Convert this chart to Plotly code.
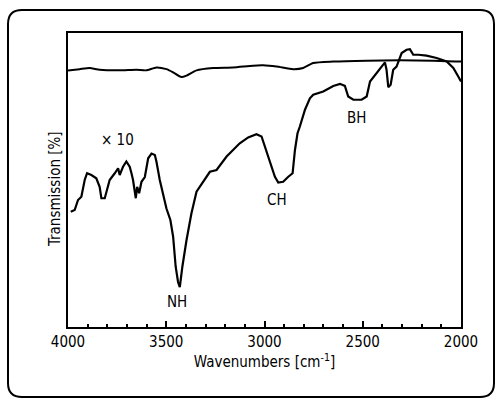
import plotly.graph_objects as go

# Reference (unscaled) spectrum
ref_wn = [4000, 3941, 3890, 3839, 3737, 3652, 3601, 3550, 3499, 3465, 3423, 3397, 3346,
          3261, 3160, 3058, 3007, 2939, 2854, 2803, 2752, 2650, 2480, 2311, 2141, 2000]
ref_t = [87.2, 87.7, 88.1, 87.5, 87.3, 87.5, 87.3, 88.3, 87.7, 86.6, 85.0, 85.5, 87.3,
         88.1, 88.3, 88.9, 89.0, 88.6, 87.7, 88.1, 89.8, 90.3, 90.6, 90.7, 90.6, 90.3]

# x10 spectrum
x10_wn = [3986, 3966, 3949, 3932, 3915, 3903, 3881, 3856, 3839, 3830, 3813, 3805, 3788, 3762,
          3745, 3737, 3720, 3703, 3686, 3677, 3669, 3660, 3655, 3648, 3638, 3626, 3609, 3592,
          3575, 3558, 3550, 3533, 3516, 3499, 3479, 3465, 3452, 3440, 3431, 3418, 3397, 3372,
          3346, 3329, 3304, 3278, 3244, 3219, 3193, 3160, 3126, 3083, 3041, 3015, 2998, 2981,
          2964, 2947, 2930, 2905, 2879, 2857, 2845, 2832, 2820, 2794, 2769, 2752, 2701, 2650,
          2616, 2591, 2574, 2548, 2506, 2480, 2463, 2429, 2404, 2387, 2379, 2370, 2358, 2345,
          2328, 2319, 2302, 2277, 2260, 2243, 2217, 2175, 2124, 2073, 2039, 2014, 2000]
x10_t = [39.2, 39.8, 43.2, 44.3, 50.0, 52.3, 51.7, 50.6, 47.7, 43.8, 43.8, 46.0, 50.0, 52.3,
         54.0, 51.7, 54.5, 56.3, 54.5, 52.3, 50.0, 46.0, 43.8, 47.7, 45.5, 49.4, 51.0, 57.4,
         59.0, 58.5, 56.3, 50.0, 45.5, 40.3, 36.4, 30.7, 20.5, 15.3, 13.6, 20.5, 29.5, 38.6,
         46.0, 47.7, 50.0, 52.8, 53.4, 55.7, 58.0, 60.2, 62.5, 64.5, 65.6, 64.8, 61.4, 58.0,
         54.5, 51.1, 49.1, 49.4, 51.1, 52.3, 60.2, 65.9, 68.2, 73.9, 77.8, 79.0, 80.1, 82.0,
         82.7, 82.0, 78.4, 77.3, 77.3, 78.4, 83.5, 86.4, 88.6, 90.0, 87.5, 81.6, 82.4, 87.5,
         88.6, 90.3, 93.2, 94.3, 94.5, 92.6, 92.6, 92.3, 91.5, 90.3, 88.1, 85.2, 83.5]

labels = ["× 10", "NH", "CH", "BH"]
label_wn = [3746, 3446, 2937, 2534]
label_t = [63.6, 8.5, 43.2, 71.0]

tick_vals = [4000, 3500, 3000, 2500, 2000]
tick_text = ["4000", "3500", "3000", "2500", "2000"]

FONT = "DejaVu Sans Condensed, Roboto, sans-serif"

W, H = 496, 400
L, R, T, B = 68, 461, 33, 327
pw, ph = R - L, B - T

fig = go.Figure()
fig.add_trace(go.Scatter(x=ref_wn, y=ref_t, mode="lines",
                         line=dict(color="black", width=2, shape="spline", smoothing=0.6),
                         hoverinfo="skip"))
fig.add_trace(go.Scatter(x=x10_wn, y=x10_t, mode="lines",
                         line=dict(color="black", width=2.2),
                         hoverinfo="skip"))

for txt, xw, yt in zip(labels, label_wn, label_t):
    fig.add_annotation(x=xw, y=yt, text=txt, showarrow=False,
                       font=dict(family=FONT, size=15, color="black"))


def px(xp):
    return (xp - L) / pw


def py(yp):
    return (B - yp) / ph


fig.add_annotation(xref="paper", yref="paper", x=px(55), y=py(189), text="Transmission [%]",
                   textangle=-90, showarrow=False, xanchor="center", yanchor="middle",
                   font=dict(family=FONT, size=15, color="black"))

x0, x1, y0, y1, r = 8, 494, 10, 397, 14
path = (f"M {px(x0 + r)},{py(y0)} L {px(x1 - r)},{py(y0)} Q {px(x1)},{py(y0)} {px(x1)},{py(y0 + r)} "
        f"L {px(x1)},{py(y1 - r)} Q {px(x1)},{py(y1)} {px(x1 - r)},{py(y1)} "
        f"L {px(x0 + r)},{py(y1)} Q {px(x0)},{py(y1)} {px(x0)},{py(y1 - r)} "
        f"L {px(x0)},{py(y0 + r)} Q {px(x0)},{py(y0)} {px(x0 + r)},{py(y0)} Z")
fig.add_shape(type="path", path=path, xref="paper", yref="paper",
              line=dict(color="black", width=2))

fig.update_layout(
    width=W, height=H,
    margin=dict(l=L, r=W - R, t=T, b=H - B, autoexpand=False),
    paper_bgcolor="white", plot_bgcolor="white",
    showlegend=False,
    font=dict(family=FONT, size=15, color="black"),
    xaxis=dict(range=[4000, 2000], tickvals=tick_vals, ticktext=tick_text,
               ticks="inside", ticklen=6, tickwidth=1.5, tickcolor="black",
               minor=dict(dtick=100, ticks="inside", ticklen=3, tickcolor="black"),
               showline=True, linecolor="black", linewidth=1.5, mirror=True,
               showgrid=False, zeroline=False, automargin=False,
               title=dict(text="Wavenumbers [cm<sup>-1</sup>]", standoff=6,
                          font=dict(family=FONT, size=15))),
    yaxis=dict(range=[0, 100], showticklabels=False, ticks="",
               showline=True, linecolor="black", linewidth=1.5, mirror=True,
               showgrid=False, zeroline=False, automargin=False),
)

fig.write_html("out.html",
               config={"displayModeBar": False},
               post_script="document.body.style.margin='0';document.body.style.overflow='hidden';")
